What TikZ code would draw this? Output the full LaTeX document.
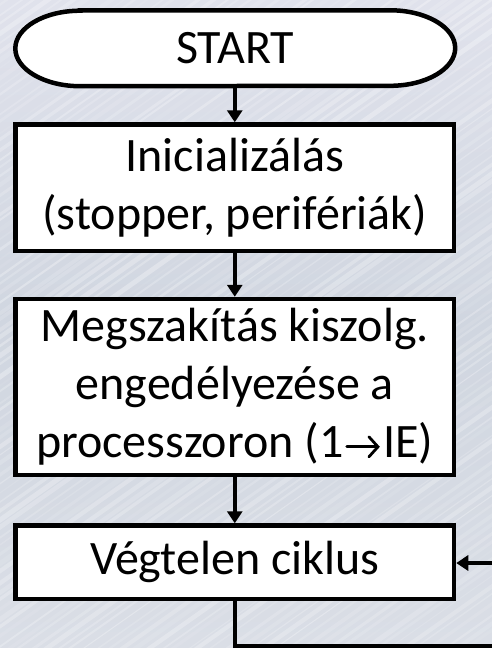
\documentclass[tikz,border=0pt]{standalone}
\usepackage{fontspec}
\setmainfont{Carlito}
\usetikzlibrary{arrows.meta}
\definecolor{bgtop}{RGB}{224,226,236}
\definecolor{bgmid}{RGB}{208,214,224}
\definecolor{bgbot}{RGB}{218,222,230}
\newcommand{\inlinearrow}{\hspace{2pt}\tikz[baseline=0pt]{\draw[line width=2.8pt, line cap=round, -{Straight Barb[length=9pt,width=20pt,line cap=round]}] (0pt,11pt) -- (33pt,11pt);}\hspace{2pt}}
\tikzset{
  flowline/.style={line width=4.5pt, draw=black},
  flowarrow/.style={flowline, -{Triangle[length=12pt,width=15pt]}},
  procbox/.style={draw=black, line width=4.5pt, fill=white, minimum width=438.5pt,
    align=center, inner sep=0pt, font=\fontsize{48}{58}\selectfont},
  termtext/.style={minimum width=439.5pt, minimum height=75.5pt, inner sep=0pt,
    font=\fontsize{48}{58}\selectfont}
}
\begin{document}
\begin{tikzpicture}
\useasboundingbox (0pt,0pt) rectangle (492pt,-648pt);
\clip (0pt,0pt) rectangle (492pt,-648pt);
% background
\shade[top color=bgtop, bottom color=bgbot, middle color=bgmid] (0pt,0pt) rectangle (492pt,-648pt);
\pgfmathsetseed{11}
\foreach \i in {0,...,110} {
  \pgfmathsetmacro{\yy}{-\i*9 - 4*rnd}
  \pgfmathsetmacro{\op}{0.06+0.25*rnd}
  \pgfmathsetmacro{\lw}{1+4*rnd}
  \draw[white, opacity=\op, line width=\lw pt] (-20pt,\yy pt) -- (520pt,\yy pt+380pt);
}
% terminator
\node[termtext] (start) at (235.25pt,-48.25pt) {START};
\draw[flowline, fill=white]
  ([xshift=65pt]start.north west) -- ([xshift=-65pt]start.north east)
  arc[start angle=90, end angle=-90, x radius=65pt, y radius=37.75pt]
  -- ([xshift=65pt]start.south west)
  arc[start angle=270, end angle=90, x radius=65pt, y radius=37.75pt] -- cycle;
\node[termtext] at (start.center) {START};
% boxes
\node[procbox, minimum height=126.5pt] (init) at (234.75pt,-187.75pt)
  {Inicializálás\\(stopper, perifériák)};
\node[procbox, minimum height=176pt] (irq) at (234.75pt,-387pt)
  {Megszakítás kiszolg.\\engedélyezése a\\processzoron (1\inlinearrow IE)};
\node[procbox, minimum height=73.5pt] (loop) at (234.75pt,-562.25pt)
  {Végtelen ciklus};
% connectors
\draw[flowarrow] (start.south -| init.north) -- (init.north);
\draw[flowarrow] (init.south) -- (irq.north);
\draw[flowarrow] (irq.south) -- (loop.north);
\coordinate (c1) at (234.75pt,-646pt);
\coordinate (c2) at (510pt,-646pt);
\coordinate (c3) at (510pt,-563pt);
\draw[flowarrow] (loop.south) -- (c1) -- (c2) -- (c3) -- (c3 -| loop.east);
\end{tikzpicture}
\end{document}
